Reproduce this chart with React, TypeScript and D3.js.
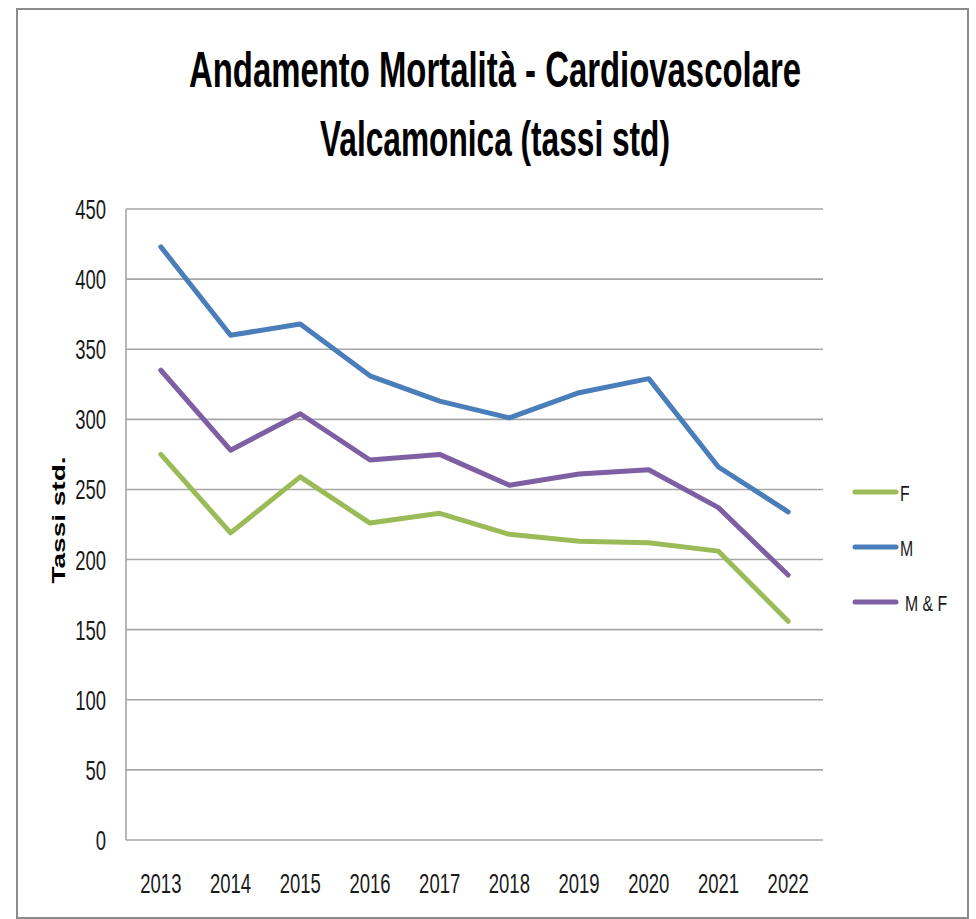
import React from "react";
import * as d3 from "d3";

const years = ["2013", "2014", "2015", "2016", "2017", "2018", "2019", "2020", "2021", "2022"];
const valuesF = [275, 219, 259, 226, 233, 218, 213, 212, 206, 156];
const valuesM = [423, 360, 368, 331, 313, 301, 319, 329, 266, 234];
const valuesMF = [335, 278, 304, 271, 275, 253, 261, 264, 237, 189];
const yTicks = [0, 50, 100, 150, 200, 250, 300, 350, 400, 450];
const seriesNames = ["F", "M", "M & F"];
const seriesColors = ["#9BBB59", "#4A7EBB", "#7F5FA3"];

const W = 976;
const H = 919;
const SX = 0.66;
const FONT = "'Liberation Sans', Arial, sans-serif";

export default function App() {
  const margin = { left: 126, right: 823, top: 209, bottom: 840 };
  const x = d3.scaleBand<string>().domain(years).range([margin.left, margin.right]);
  const y = d3.scaleLinear().domain([0, 450]).range([margin.bottom, margin.top]);
  const line = d3
    .line<number>()
    .x((_, i) => (x(years[i]) as number) + x.bandwidth() / 2)
    .y((d) => y(d));
  const series = [valuesF, valuesM, valuesMF];
  const legendY = [492, 547, 602];
  const legendLabelX = [900, 900, 905];

  return (
    <div style={{ position: "absolute", left: 0, top: 0 }}>
      <svg width={W} height={H} style={{ display: "block", background: "#fff" }}>
        <rect x={17} y={9} width={951} height={909} fill="#fff" stroke="#8c8c8c" strokeWidth={2} />
        <text
          x={495}
          y={87}
          textAnchor="middle"
          fontFamily={FONT}
          fontWeight="bold"
          fontSize={50}
          textLength={612}
          lengthAdjust="spacingAndGlyphs"
          fill="#000"
        >
          Andamento Mortalità - Cardiovascolare
        </text>
        <text
          x={495}
          y={156}
          textAnchor="middle"
          fontFamily={FONT}
          fontWeight="bold"
          fontSize={50}
          textLength={350}
          lengthAdjust="spacingAndGlyphs"
          fill="#000"
        >
          Valcamonica (tassi std)
        </text>

        {yTicks.map((t) => (
          <line key={"g" + t} x1={margin.left} x2={margin.right} y1={y(t)} y2={y(t)} stroke="#a6a6a6" strokeWidth={1.6} />
        ))}
        <line x1={margin.left} x2={margin.left} y1={margin.top} y2={margin.bottom} stroke="#a6a6a6" strokeWidth={1.6} />

        {yTicks.map((t) => (
          <g key={"yl" + t} transform={`translate(106,${y(t) + 10}) scale(${SX},1)`}>
            <text textAnchor="end" fontFamily={FONT} fontSize={28} fill="#1a1a1a">
              {t}
            </text>
          </g>
        ))}
        {years.map((yr) => (
          <g key={"xl" + yr} transform={`translate(${(x(yr) as number) + x.bandwidth() / 2},893) scale(${SX},1)`}>
            <text textAnchor="middle" fontFamily={FONT} fontSize={28} fill="#1a1a1a">
              {yr}
            </text>
          </g>
        ))}

        <g transform={`translate(65,520) scale(${SX},1) rotate(-90)`}>
          <text textAnchor="middle" fontFamily={FONT} fontWeight="bold" fontSize={28} fill="#000">
            Tassi std.
          </text>
        </g>

        {series.map((s, i) => (
          <path
            key={"s" + i}
            d={line(s) || ""}
            fill="none"
            stroke={seriesColors[i]}
            strokeWidth={5}
            strokeLinejoin="round"
            strokeLinecap="round"
          />
        ))}

        {seriesNames.map((n, i) => (
          <g key={"lg" + n}>
            <line x1={855} x2={896} y1={legendY[i]} y2={legendY[i]} stroke={seriesColors[i]} strokeWidth={5} strokeLinecap="round" />
            <g transform={`translate(${legendLabelX[i]},${legendY[i] + 9}) scale(0.72,1)`}>
              <text fontFamily={FONT} fontSize={22} fill="#1a1a1a">
                {n}
              </text>
            </g>
          </g>
        ))}
      </svg>
    </div>
  );
}
